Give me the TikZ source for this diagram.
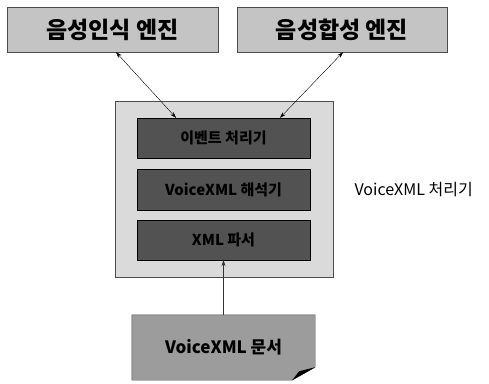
\documentclass[tikz,border=0pt]{standalone}
\usepackage{fontspec}
\newfontfamily\kr{Noto Sans CJK KR}
\usetikzlibrary{arrows.meta}
\definecolor{enginegray}{HTML}{C4C4C4}
\definecolor{procgray}{HTML}{DADADA}
\definecolor{modgray}{HTML}{525252}
\definecolor{docgray}{HTML}{9C9C9C}

\begin{document}
\begin{tikzpicture}[x=1pt, y=-1pt, every node/.style={font=\kr}, >={Stealth[length=6pt, width=4pt]},
	engine/.style={draw=black!70, fill=enginegray, minimum width=211pt, minimum height=45pt, font=\kr\bfseries\fontsize{23}{25}\selectfont},
	module/.style={draw=black, fill=modgray, minimum width=173pt, minimum height=40pt, font=\kr\bfseries\fontsize{15}{17}\selectfont, text=black}]
	\useasboundingbox (0,0) rectangle (489,383);
	\node[engine] (asr) at (112.5,29.5) {음성인식 엔진};
	\node[engine, minimum width=210pt] (tts) at (342,29.5) {음성합성 엔진};
	\node[draw=black!70, fill=procgray, minimum width=218pt, minimum height=176pt] (proc) at (224,189) {};
	\node[module] (evt) at (223.5,138) {이벤트 처리기};
	\node[module, minimum height=41pt] (interp) at (223.5,189.5) {VoiceXML 해석기};
	\node[module] (parser) at (223.5,240) {XML 파서};
	\node[anchor=west, font=\kr\fontsize{16}{18}\selectfont] (proclabel) at (351,190) {VoiceXML 처리기};
	% document with folded corner
	\node[minimum width=183pt, minimum height=65pt] (doc) at (223.5,347.5) {};
	\fill[docgray, draw=black!70] (doc.north west) -- (doc.north east) -- ([yshift=13pt]doc.south east) -- ([xshift=-23pt]doc.south east) -- (doc.south west) -- cycle;
	\fill[black] ([yshift=13pt]doc.south east) -- ([xshift=-23pt]doc.south east) -- ([xshift=-16pt, yshift=9pt]doc.south east) -- cycle;
	\node[font=\kr\bfseries\fontsize{17}{19}\selectfont] (doctext) at (doc) {VoiceXML 문서};
	\draw[<->, thin] ([xshift=3.5pt]asr.south) -- ([xshift=-47.5pt]evt.north);
	\draw[<->, thin] ([xshift=1pt]tts.south) -- ([xshift=56.5pt]evt.north);
	\draw[->, thin, black!80] (doc.north) -- (parser.south);
\end{tikzpicture}
\end{document}
